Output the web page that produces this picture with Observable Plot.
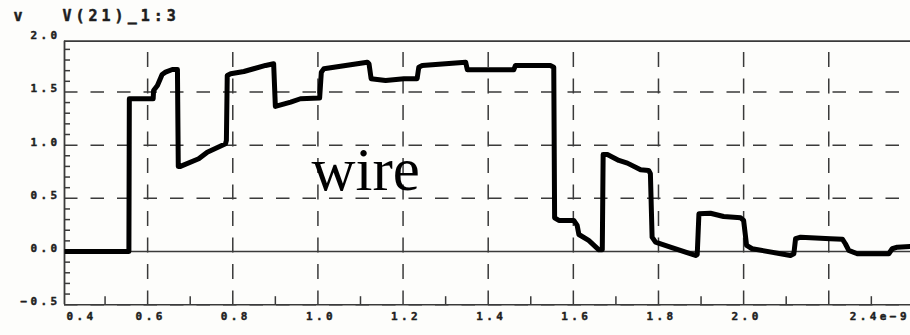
<!DOCTYPE html>
<html><head><meta charset="utf-8">
<script src="https://cdn.jsdelivr.net/npm/d3@7"></script>
<script src="https://cdn.jsdelivr.net/npm/@observablehq/plot@0.6"></script>
<style>
html,body{margin:0;padding:0;background:#fdfdfb;overflow:hidden;}
</style></head><body><div id="chart"></div>
<script>
// waveform V(21) (time in ns, voltage in V)
const timeNs = [0.405,0.556,0.557,0.613,0.614,0.623,0.634,0.642,0.658,0.670,0.672,0.677,0.720,0.740,0.783,0.785,0.787,0.795,0.826,0.849,0.877,0.896,0.900,0.936,0.959,1.004,1.008,1.014,1.116,1.120,1.125,1.159,1.202,1.233,1.237,1.245,1.347,1.351,1.460,1.464,1.546,1.554,1.556,1.566,1.601,1.609,1.613,1.636,1.660,1.668,1.670,1.680,1.707,1.727,1.758,1.777,1.781,1.785,1.793,1.828,1.887,1.891,1.895,1.922,1.953,1.993,2.000,2.007,2.020,2.110,2.118,2.122,2.134,2.204,2.232,2.239,2.247,2.267,2.341,2.349,2.361,2.392];
const voltage = [0,0,1.436,1.436,1.514,1.561,1.664,1.686,1.711,1.711,0.80,0.80,0.872,0.934,1.013,1.044,1.655,1.671,1.692,1.718,1.749,1.765,1.364,1.404,1.436,1.442,1.686,1.718,1.780,1.765,1.624,1.608,1.624,1.624,1.733,1.749,1.780,1.708,1.708,1.749,1.749,1.733,0.317,0.292,0.292,0.245,0.160,0.104,0.016,0.016,0.912,0.912,0.856,0.831,0.768,0.762,0.731,0.135,0.088,0.041,-0.037,-0.028,0.355,0.360,0.329,0.317,0.292,0.057,0.026,-0.037,-0.021,0.120,0.135,0.120,0.116,0.073,0.010,-0.021,-0.021,0.026,0.041,0.047];

const xDomain = [0.4047, 2.392];
const yDomain = [-0.5, 1.977];
const xGridValues = [0.6,0.8,1.0,1.2,1.4,1.6,1.8,2.0,2.2];
const xMinorValues = [0.5,0.7,0.9,1.1,1.3,1.5,1.7,1.9,2.1,2.3];
const xTickValues = [0.4,0.6,0.8,1.0,1.2,1.4,1.6,1.8,2.0,2.4];
const xTickLabels = ["0.4","0.6","0.8","1.0","1.2","1.4","1.6","1.8","2.0","2.4e\u22129"];
const yTickValues = [-0.5,0,0.5,1.0,1.5,2.0];
const yTickLabels = ["\u22120.5","0.0","0.5","1.0","1.5","2.0"];
const yDashedGrid = [-0.5,0.5,1.0,1.5];
const yZeroLine = [0];
const yMinorValues = [-0.4,-0.3,-0.2,-0.1,0.1,0.2,0.3,0.4,0.6,0.7,0.8,0.9,1.1,1.2,1.3,1.4,1.6,1.7,1.8,1.9];
const yAxisLabel = ["v"];
const traceName = ["V(21)_1:3"];
const annotationText = ["wire"];
const annotationX = [0.985];
const annotationY = [0.574];

const wave = timeNs.map((t, i) => ({t, v: voltage[i]}));
const xLab = xTickValues.map((x, i) => ({x, label: xTickLabels[i], i}));
const midLab = xLab.filter(d => d.i > 0 && d.i < xLab.length - 1);
const firstLab = [xLab[0]];
const lastLab = [xLab[xLab.length - 1]];
const yLab = yTickValues.map((y, i) => ({y, label: yTickLabels[i]}));
const ann = annotationText.map((s, i) => ({s, x: annotationX[i], y: annotationY[i]}));

const W = 910, H = 335, mL = 64, mT = 40.7, mB = 30.8;
const frameH = H - mT - mB;
const mono = "DejaVu Sans Mono";
const grid = "#3a3a3a";
const ink = "#1e1e1e";
const tickText = {fontFamily: mono, fontWeight: "bold", fontSize: 11, fill: ink, stroke: ink, strokeWidth: 0.45};
const titleText = {fontFamily: mono, fontWeight: "bold", fontSize: 15, fill: ink, stroke: ink, strokeWidth: 0.5};

const chart = Plot.plot({
  width: W, height: H,
  marginLeft: mL, marginRight: 0, marginTop: mT, marginBottom: mB,
  style: {background: "#fdfdfb", overflow: "visible"},
  x: {domain: xDomain, axis: null},
  y: {domain: yDomain, axis: null},
  marks: [
    Plot.ruleX(xGridValues, {stroke: grid, strokeWidth: 1.5, strokeDasharray: "15,11.5", strokeDashoffset: 15.2}),
    Plot.ruleY(yDashedGrid, {stroke: grid, strokeWidth: 1.5, strokeDasharray: "13.5,13"}),
    Plot.ruleY(yZeroLine, {stroke: grid, strokeWidth: 1.6}),
    Plot.ruleY([yDomain[1]], {stroke: grid, strokeWidth: 1.8}),
    Plot.ruleY([yDomain[0]], {stroke: grid, strokeWidth: 1.6}),
    Plot.ruleX([xDomain[0]], {stroke: grid, strokeWidth: 1.8}),
    Plot.ruleX(xMinorValues, {stroke: grid, strokeWidth: 1.5, insetTop: frameH - 8}),
    Plot.ruleY(yMinorValues, {stroke: grid, strokeWidth: 1.5, insetRight: W - mL - 6}),
    Plot.line(wave, {x: "t", y: "v", stroke: "#000", strokeWidth: 5, strokeLinejoin: "round", strokeLinecap: "butt"}),
    Plot.text(midLab, {x: "x", text: "label", frameAnchor: "bottom", lineAnchor: "top", dy: 7.5, dx: 3, ...tickText}),
    Plot.text(firstLab, {x: "x", text: "label", frameAnchor: "bottom", lineAnchor: "top", textAnchor: "start", dy: 7.5, dx: 4, ...tickText}),
    Plot.text(lastLab, {x: "x", text: "label", frameAnchor: "bottom", lineAnchor: "top", textAnchor: "end", dy: 7.5, dx: -4, ...tickText}),
    Plot.text(yLab, {y: "y", text: "label", frameAnchor: "left", textAnchor: "end", dx: -4, dy: -3, ...tickText}),
    Plot.text(yAxisLabel, {text: d => d, frameAnchor: "top-left", textAnchor: "start", lineAnchor: "bottom", dx: -51, dy: -20, ...titleText}),
    Plot.text(traceName, {text: d => d, frameAnchor: "top-left", textAnchor: "start", lineAnchor: "bottom", dx: -2, dy: -20, ...titleText}),
    Plot.text(ann, {x: "x", y: "y", text: "s", textAnchor: "start", lineAnchor: "bottom", fontFamily: "Liberation Serif", fontSize: 61, fill: "#000"})
  ]
});
chart.querySelectorAll('g[font-family]').forEach(g => {
  if ((g.getAttribute("font-family") || "").includes("Mono")) {
    g.setAttribute("letter-spacing", g.getAttribute("font-size") === "15" ? "4" : "3.4");
  }
});
document.getElementById("chart").appendChild(chart);
</script></body></html>
